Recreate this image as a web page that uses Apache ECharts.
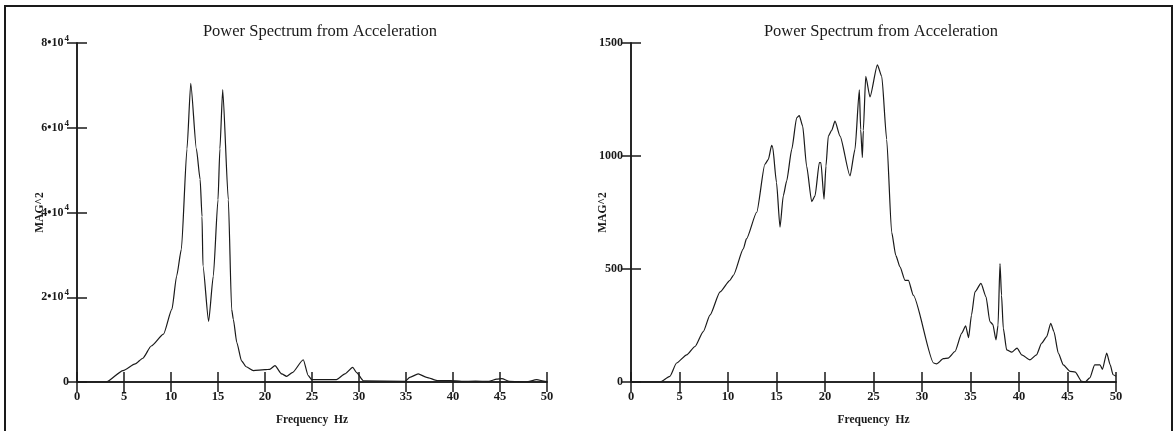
<!DOCTYPE html>
<html>
<head>
<meta charset="utf-8">
<script src="https://cdn.jsdelivr.net/npm/echarts@6/dist/echarts.min.js"></script>
<style>
  html, body { margin: 0; padding: 0; background: #fff; }
  #chart { width: 1174px; height: 431px; }
</style>
</head>
<body>
<div id="chart"></div>
<script>
// Espectro de potencia (izquierda) - frecuencia (Hz) y magnitud
const freqA = [0, 3.0, 3.1, 4.9, 6.2, 7.0, 7.9, 9.2, 10.1, 10.6, 11.1, 11.7, 12.1, 12.7, 13.1, 13.3, 13.4, 14.0, 14.5, 15.0, 15.2, 15.5, 16.1, 16.45, 16.63, 17.0, 17.5, 18.0, 18.76, 20.0, 20.5, 21.06, 21.78, 22.3, 22.9, 24.07, 24.6, 24.97, 27.6, 28.5, 29.33, 29.75, 30.46, 34.9, 35.4, 36.3, 37.2, 38.3, 39.7, 40.9, 42.4, 43.8, 44.65, 45.2, 46.0, 47.8, 48.9, 49.8, 50];
const magA = [0, 0, 0, 2700, 4300, 5600, 8500, 11300, 17200, 25000, 31300, 55000, 70500, 55000, 47800, 39000, 27400, 14300, 25000, 43000, 55000, 69000, 43000, 17200, 14800, 9300, 5000, 3600, 2700, 2900, 3000, 3850, 1900, 1350, 2200, 5250, 1500, 550, 550, 1900, 3450, 2200, 300, 160, 1100, 1900, 1100, 350, 350, 150, 200, 150, 700, 800, 150, 0, 550, 150, 100];

// Espectro de potencia (derecha)
const freqB = [0, 3.0, 4.0, 4.7, 5.74, 6.6, 7.45, 8.14, 9.18, 10.2, 10.55, 11.58, 11.9, 12.96, 13.8, 14.16, 14.5, 14.6, 15.0, 15.36, 15.7, 16.05, 16.57, 17.08, 17.35, 17.7, 18.1, 18.63, 18.97, 19.42, 19.58, 19.9, 20.1, 20.34, 20.69, 21.03, 21.55, 22.58, 23.09, 23.54, 23.68, 23.85, 23.95, 24.2, 24.64, 25.4, 25.85, 26.36, 26.87, 27.3, 27.73, 28.25, 28.6, 29.1, 31.2, 31.5, 32.2, 32.7, 33.4, 34.1, 34.5, 34.8, 35.1, 35.46, 36.08, 36.6, 37.0, 37.3, 37.63, 37.84, 38.04, 38.2, 38.38, 38.73, 39.25, 39.8, 40.28, 41.13, 41.8, 42.34, 42.86, 43.27, 43.6, 44.05, 44.57, 45.26, 45.8, 46.46, 46.8, 47.3, 47.8, 48.35, 48.6, 49.04, 49.4, 49.7, 50];
const magB = [0, 0, 25, 84, 120, 157, 223, 296, 399, 450, 472, 589, 633, 751, 963, 985, 1047, 1040, 883, 685, 824, 890, 1029, 1169, 1179, 1132, 956, 798, 824, 971, 970, 809, 956, 1088, 1114, 1154, 1088, 912, 1029, 1293, 1117, 993, 1112, 1352, 1261, 1403, 1352, 1073, 663, 560, 509, 450, 450, 384, 84, 80, 103, 106, 135, 216, 249, 196, 296, 399, 436, 377, 267, 255, 186, 252, 524, 384, 238, 142, 132, 150, 120, 98, 120, 172, 201, 260, 223, 128, 76, 47, 44, 3, 0, 18, 76, 76, 56, 128, 76, 32, 25];

// Marcas de los ejes
const freqTicks = [0, 5, 10, 15, 20, 25, 30, 35, 40, 45, 50];
const magTicksA = [0, 20000, 40000, 60000, 80000];
const magTicksB = [0, 500, 1000, 1500];

const serif = '"Liberation Serif", "DejaVu Serif", serif';
const ink = '#1a1a1a';

function xAxes(gridIndex) {
    const base = {
        type: 'value',
        gridIndex: gridIndex,
        min: freqTicks[0],
        max: freqTicks[freqTicks.length - 1],
        interval: freqTicks[1] - freqTicks[0],
        splitLine: { show: false },
        axisLine: { lineStyle: { color: ink, width: 1.5 } },
        axisTick: { inside: true, length: 10, lineStyle: { color: ink, width: 1.5 } }
    };
    return [
        Object.assign({}, base, {
            position: 'bottom',
            name: 'Frequency  Hz',
            nameLocation: 'middle',
            nameGap: 32,
            nameMoveOverlap: false,
            nameTextStyle: { fontFamily: serif, fontWeight: 'bold', fontSize: 11.5, color: ink },
            axisLabel: { fontFamily: serif, fontWeight: 'bold', fontSize: 12.5, color: ink, margin: 8 }
        }),
        Object.assign({}, base, { position: 'top', axisLabel: { show: false } })
    ];
}

function yAxes(gridIndex, ticks, formatter, nameGap) {
    const base = {
        type: 'value',
        gridIndex: gridIndex,
        min: ticks[0],
        max: ticks[ticks.length - 1],
        interval: ticks[1] - ticks[0],
        splitLine: { show: false },
        axisLine: { show: true, lineStyle: { color: ink, width: 1.5 } },
        axisTick: { show: true, inside: true, length: 10, lineStyle: { color: ink, width: 1.5 } }
    };
    return [
        Object.assign({}, base, {
            position: 'left',
            name: 'MAG^2',
            nameLocation: 'middle',
            nameRotate: 90,
            nameGap: nameGap,
            nameMoveOverlap: false,
            nameTextStyle: { fontFamily: serif, fontWeight: 'bold', fontSize: 11.5, color: ink },
            axisLabel: {
                fontFamily: serif, fontWeight: 'bold', fontSize: 12, color: ink, margin: 8,
                formatter: formatter,
                rich: {
                    s: { fontFamily: serif, fontWeight: 'bold', fontSize: 9, color: ink, verticalAlign: 'top', padding: [0, 0, 9, 1] }
                }
            }
        }),
        Object.assign({}, base, { position: 'right', axisLabel: { show: false } })
    ];
}

const chart = echarts.init(document.getElementById('chart'));

const lineSeries = (xi, yi, fs, ms) => ({
    type: 'line',
    xAxisIndex: xi,
    yAxisIndex: yi,
    data: fs.map((f, i) => [f, ms[i]]),
    showSymbol: false,
    smooth: 0.2,
    smoothMonotone: 'x',
    lineStyle: { color: ink, width: 1.2 }
});

const option = {
    animation: false,
    backgroundColor: '#fff',
    title: [
        { text: 'Power Spectrum from Acceleration', left: 315, top: 18, textAlign: 'center',
          textStyle: { fontFamily: serif, fontWeight: 'normal', fontSize: 16.5, color: ink } },
        { text: 'Power Spectrum from Acceleration', left: 876, top: 18, textAlign: 'center',
          textStyle: { fontFamily: serif, fontWeight: 'normal', fontSize: 16.5, color: ink } }
    ],
    graphic: [{
        type: 'rect',
        shape: { x: 5, y: 6, width: 1167, height: 440 },
        style: { fill: 'none', stroke: ink, lineWidth: 2 },
        silent: true
    }],
    grid: [
        { left: 77, top: 43, width: 470, height: 340, containLabel: false },
        { left: 631, top: 43, width: 485, height: 341, containLabel: false }
    ],
    xAxis: xAxes(0).concat(xAxes(1)),
    yAxis: yAxes(0, magTicksA, function (v) {
        return v === 0 ? '0' : (v / 10000) + '•10{s|4}';
    }, 31).concat(yAxes(1, magTicksB, function (v) { return String(v); }, 22)),
    series: [
        lineSeries(0, 0, freqA, magA),
        lineSeries(2, 2, freqB, magB)
    ]
};

chart.setOption(option);
</script>
</body>
</html>
